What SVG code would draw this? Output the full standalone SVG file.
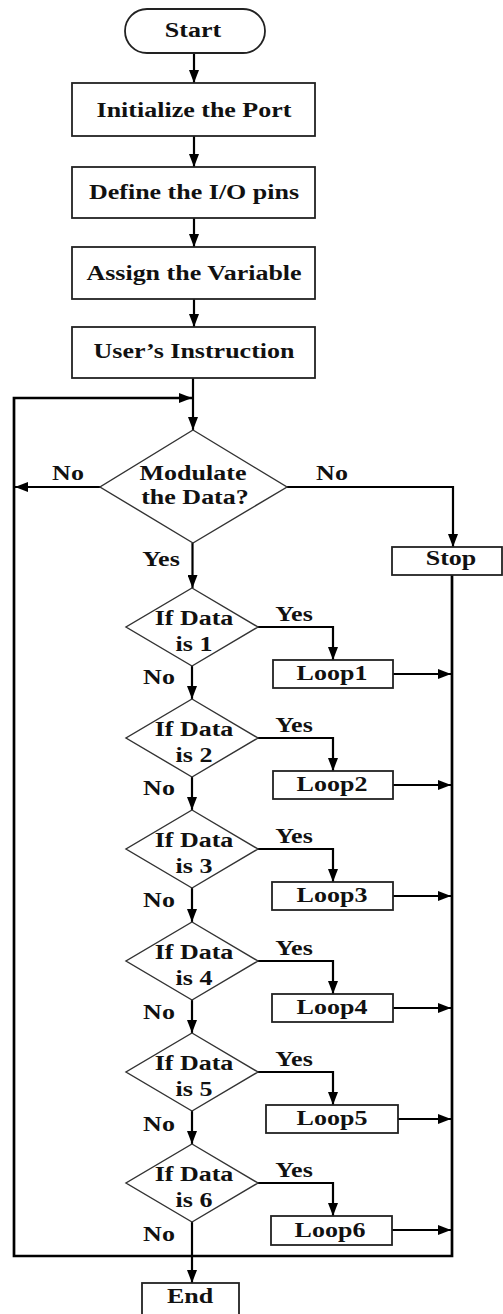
<svg xmlns="http://www.w3.org/2000/svg" width="503" height="1314" viewBox="0 0 503 1314">
<style>
.box{fill:#fff;stroke:#222;stroke-width:1.8}
.dia{fill:#fff;stroke:#333;stroke-width:1.4}
.con{fill:none;stroke:#000;stroke-width:2.2}
.outer{stroke-width:2.7}
.t{font-family:"Liberation Serif","Times New Roman",serif;font-weight:bold;font-size:20px;fill:#111;text-anchor:middle}
</style>
<defs>
<marker id="ah" viewBox="0 0 13 10" refX="13" refY="5" markerWidth="13" markerHeight="10" markerUnits="userSpaceOnUse" orient="auto">
<path d="M0,0 L13,5 L0,10 z" fill="#000"/>
</marker>
</defs>
<rect width="503" height="1314" fill="#fff"/>

<g id="connectors">
<path class="con" d="M194,53 V83" marker-end="url(#ah)"/>
<path class="con" d="M194,136 V167" marker-end="url(#ah)"/>
<path class="con" d="M194,218 V247" marker-end="url(#ah)"/>
<path class="con" d="M194,299 V327" marker-end="url(#ah)"/>
<path class="con" d="M193,378 V430" marker-end="url(#ah)"/>
<path class="con outer" d="M452,575 V1256 H14 V398 H192" marker-end="url(#ah)"/>
<path class="con" d="M100,487 H15" marker-end="url(#ah)"/>
<path class="con" d="M287,487 H453 V547" marker-end="url(#ah)"/>
<path class="con" d="M192.5,543 V588" marker-end="url(#ah)"/>

<path class="con" d="M258,627 H333 V660" marker-end="url(#ah)"/>
<path class="con" d="M393,674 H451" marker-end="url(#ah)"/>
<path class="con" d="M192,666 V699" marker-end="url(#ah)"/>

<path class="con" d="M258,738 H333 V771" marker-end="url(#ah)"/>
<path class="con" d="M393,785 H451" marker-end="url(#ah)"/>
<path class="con" d="M192,777 V810" marker-end="url(#ah)"/>

<path class="con" d="M258,849 H333 V882" marker-end="url(#ah)"/>
<path class="con" d="M393,896 H451" marker-end="url(#ah)"/>
<path class="con" d="M192,888 V922" marker-end="url(#ah)"/>

<path class="con" d="M258,961 H333 V994" marker-end="url(#ah)"/>
<path class="con" d="M393,1008 H451" marker-end="url(#ah)"/>
<path class="con" d="M192,1000 V1033" marker-end="url(#ah)"/>

<path class="con" d="M258,1072 H333 V1105" marker-end="url(#ah)"/>
<path class="con" d="M398,1119 H451" marker-end="url(#ah)"/>
<path class="con" d="M192,1111 V1144" marker-end="url(#ah)"/>

<path class="con" d="M258,1183 H333 V1216" marker-end="url(#ah)"/>
<path class="con" d="M392,1230 H451" marker-end="url(#ah)"/>
<path class="con" d="M192,1222 V1283" marker-end="url(#ah)"/>
</g>

<g id="start">
<rect class="box" x="125" y="9" width="140" height="44" rx="22"/>
<text class="t" transform="translate(193,37) scale(1.3,1)">Start</text>
</g>
<g id="init">
<rect class="box" x="72" y="83" width="243" height="53"/>
<text class="t" transform="translate(194,117) scale(1.3,1)">Initialize the Port</text>
</g>
<g id="define">
<rect class="box" x="72" y="167" width="243" height="51"/>
<text class="t" transform="translate(194,199) scale(1.3,1)">Define the I/O pins</text>
</g>
<g id="assign">
<rect class="box" x="72" y="247" width="243" height="52"/>
<text class="t" transform="translate(194,280) scale(1.3,1)">Assign the Variable</text>
</g>
<g id="user">
<rect class="box" x="72" y="327" width="243" height="51"/>
<text class="t" transform="translate(194,358) scale(1.3,1)">User’s Instruction</text>
</g>

<g id="modulate">
<polygon class="dia" points="193,430 287,487 193,543 100,487"/>
<text class="t" transform="translate(193,480) scale(1.3,1)">Modulate</text>
<text class="t" transform="translate(195,504) scale(1.3,1)">the Data?</text>
</g>
<g id="labels-modulate">
<text class="t" transform="translate(68,480) scale(1.3,1)">No</text>
<text class="t" transform="translate(332,480) scale(1.3,1)">No</text>
<text class="t" transform="translate(161,566) scale(1.3,1)">Yes</text>
</g>

<g id="stop">
<rect class="box" x="392" y="547" width="110" height="28"/>
<text class="t" transform="translate(451,565) scale(1.3,1)">Stop</text>
</g>

<g id="d1">
<polygon class="dia" points="192,588 258,627 192,666 126,627"/>
<text class="t" transform="translate(194,625) scale(1.3,1)">If Data</text>
<text class="t" transform="translate(194,651) scale(1.3,1)">is 1</text>
<text class="t" transform="translate(294,621) scale(1.3,1)">Yes</text>
<text class="t" transform="translate(159,684) scale(1.3,1)">No</text>
</g>
<g id="loop1">
<rect class="box" x="273" y="660" width="120" height="28"/>
<text class="t" transform="translate(332,680) scale(1.3,1)">Loop1</text>
</g>

<g id="d2">
<polygon class="dia" points="192,699 258,738 192,777 126,738"/>
<text class="t" transform="translate(194,736) scale(1.3,1)">If Data</text>
<text class="t" transform="translate(194,762) scale(1.3,1)">is 2</text>
<text class="t" transform="translate(294,732) scale(1.3,1)">Yes</text>
<text class="t" transform="translate(159,795) scale(1.3,1)">No</text>
</g>
<g id="loop2">
<rect class="box" x="273" y="771" width="120" height="28"/>
<text class="t" transform="translate(332,791) scale(1.3,1)">Loop2</text>
</g>

<g id="d3">
<polygon class="dia" points="192,810 258,849 192,888 126,849"/>
<text class="t" transform="translate(194,847) scale(1.3,1)">If Data</text>
<text class="t" transform="translate(194,873) scale(1.3,1)">is 3</text>
<text class="t" transform="translate(294,843) scale(1.3,1)">Yes</text>
<text class="t" transform="translate(159,907) scale(1.3,1)">No</text>
</g>
<g id="loop3">
<rect class="box" x="272" y="882" width="121" height="28"/>
<text class="t" transform="translate(332,902) scale(1.3,1)">Loop3</text>
</g>

<g id="d4">
<polygon class="dia" points="192,922 258,961 192,1000 126,961"/>
<text class="t" transform="translate(194,959) scale(1.3,1)">If Data</text>
<text class="t" transform="translate(194,985) scale(1.3,1)">is 4</text>
<text class="t" transform="translate(294,955) scale(1.3,1)">Yes</text>
<text class="t" transform="translate(159,1019) scale(1.3,1)">No</text>
</g>
<g id="loop4">
<rect class="box" x="272" y="994" width="121" height="28"/>
<text class="t" transform="translate(332,1014) scale(1.3,1)">Loop4</text>
</g>

<g id="d5">
<polygon class="dia" points="192,1033 258,1072 192,1111 126,1072"/>
<text class="t" transform="translate(194,1070) scale(1.3,1)">If Data</text>
<text class="t" transform="translate(194,1096) scale(1.3,1)">is 5</text>
<text class="t" transform="translate(294,1066) scale(1.3,1)">Yes</text>
<text class="t" transform="translate(159,1131) scale(1.3,1)">No</text>
</g>
<g id="loop5">
<rect class="box" x="266" y="1105" width="132" height="28"/>
<text class="t" transform="translate(332,1125) scale(1.3,1)">Loop5</text>
</g>

<g id="d6">
<polygon class="dia" points="192,1144 258,1183 192,1222 126,1183"/>
<text class="t" transform="translate(194,1181) scale(1.3,1)">If Data</text>
<text class="t" transform="translate(194,1207) scale(1.3,1)">is 6</text>
<text class="t" transform="translate(294,1177) scale(1.3,1)">Yes</text>
<text class="t" transform="translate(159,1241) scale(1.3,1)">No</text>
</g>
<g id="loop6">
<rect class="box" x="271" y="1216" width="121" height="29"/>
<text class="t" transform="translate(330,1237) scale(1.3,1)">Loop6</text>
</g>

<g id="end">
<rect class="box" x="142" y="1283" width="97" height="40"/>
<text class="t" transform="translate(190,1303) scale(1.3,1)">End</text>
</g>
</svg>
